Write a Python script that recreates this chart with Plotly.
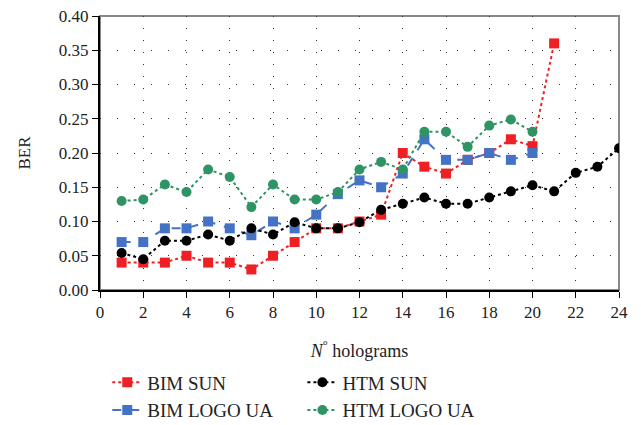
import plotly.graph_objects as go

x_bim = list(range(1, 22))
x_htm_sun = list(range(1, 25))
x_htm_logo = list(range(1, 21))
x_bim_logo = list(range(1, 21))

bim_sun = [0.04, 0.04, 0.04, 0.05, 0.04, 0.04, 0.03, 0.05, 0.07, 0.09, 0.09, 0.10,
           0.11, 0.20, 0.18, 0.17, 0.19, 0.20, 0.22, 0.21, 0.36]
bim_logo = [0.07, 0.07, 0.09, 0.09, 0.10, 0.09, 0.08, 0.10, 0.09, 0.11, 0.14, 0.16,
            0.15, 0.17, 0.22, 0.19, 0.19, 0.20, 0.19, 0.20]
htm_sun = [0.054, 0.045, 0.072, 0.072, 0.081, 0.072, 0.090, 0.081, 0.099, 0.090, 0.090, 0.099,
           0.117, 0.126, 0.135, 0.126, 0.126, 0.135, 0.144, 0.153, 0.144, 0.171, 0.180, 0.207]
htm_logo = [0.130, 0.132, 0.154, 0.143, 0.176, 0.165, 0.121, 0.154, 0.132, 0.132, 0.143, 0.176,
            0.187, 0.176, 0.231, 0.231, 0.209, 0.240, 0.249, 0.231]

x_ticks = list(range(0, 25, 2))
y_ticks = [0.0, 0.05, 0.10, 0.15, 0.20, 0.25, 0.30, 0.35, 0.40]

FONT = "Liberation Serif"

fig = go.Figure()
fig.add_trace(go.Scatter(x=x_bim, y=bim_sun, name="BIM SUN", mode="lines+markers",
                         legend="legend",
                         line=dict(color="#ee2024", width=2, dash="dot"),
                         marker=dict(symbol="square", size=10, color="#ee2024")))
fig.add_trace(go.Scatter(x=x_bim_logo, y=bim_logo, name="BIM LOGO UA", mode="lines+markers",
                         legend="legend",
                         line=dict(color="#4472c4", width=2, dash="dash"),
                         marker=dict(symbol="square", size=10, color="#4472c4")))
fig.add_trace(go.Scatter(x=x_htm_sun, y=htm_sun, name="HTM SUN", mode="lines+markers",
                         legend="legend2",
                         line=dict(color="#000000", width=2, dash="dot"),
                         marker=dict(symbol="circle", size=10, color="#000000")))
fig.add_trace(go.Scatter(x=x_htm_logo, y=htm_logo, name="HTM LOGO UA", mode="lines+markers",
                         legend="legend2",
                         line=dict(color="#2e9464", width=2, dash="dot"),
                         marker=dict(symbol="circle", size=10, color="#2e9464")))

fig.add_shape(type="rect", xref="paper", yref="paper", x0=0, x1=1, y0=0, y1=1,
              line=dict(color="#888888", width=2), layer="below")

legend_common = dict(orientation="v", yanchor="top", xanchor="left", tracegroupgap=0,
                     font=dict(family=FONT, size=19, color="#222222"),
                     bgcolor="rgba(0,0,0,0)", traceorder="normal")

fig.update_layout(
    width=633, height=417,
    margin=dict(l=92, r=22, t=8, b=135, autoexpand=False),
    paper_bgcolor="white", plot_bgcolor="white",
    font=dict(family=FONT, size=17, color="#222222"),
    showlegend=True,
    legend=dict(x=0.014, y=-0.268, **legend_common),
    legend2=dict(x=0.390, y=-0.268, **legend_common),
    xaxis=dict(range=[0, 24], tickvals=x_ticks, ticks="outside", ticklen=6,
               tickcolor="#000", showline=True, linecolor="#000", linewidth=2,
               showgrid=True, gridcolor="#333333", gridwidth=1, griddash="1px,11px",
               zeroline=False, tickfont=dict(size=17), automargin=False,
               ticklabeloverflow="allow",
               title=dict(text="<i>N</i><sup>°</sup> holograms", font=dict(size=18), standoff=23)),
    yaxis=dict(range=[0, 0.40], tickvals=y_ticks, tickformat=".2f", ticks="outside", ticklen=6,
               tickcolor="#000", showline=True, linecolor="#000", linewidth=2,
               showgrid=True, gridcolor="#333333", gridwidth=1, griddash="1px,16px",
               zeroline=False, tickfont=dict(size=17), automargin=False,
               ticklabeloverflow="allow",
               title=dict(text="BER", font=dict(size=17), standoff=24)),
)

fig.write_html("out.html")
